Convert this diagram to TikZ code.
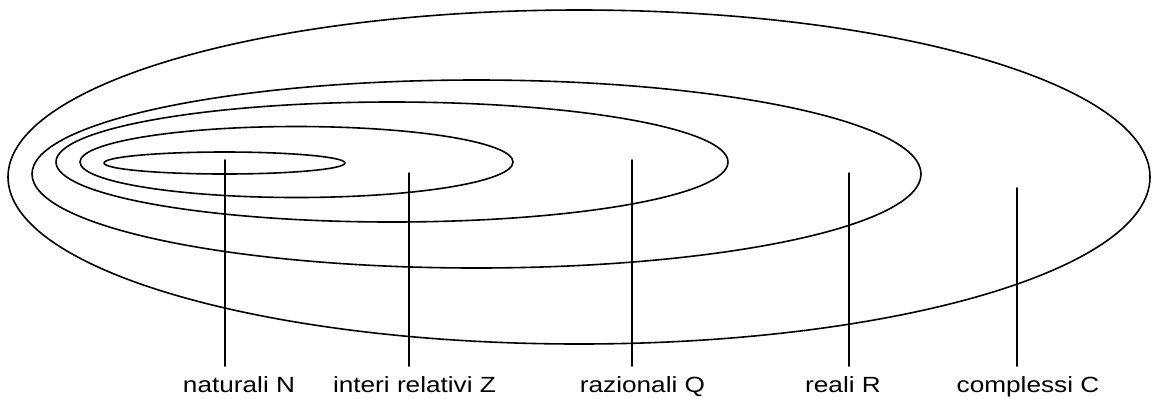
\documentclass[tikz,border=0pt]{standalone}
\usepackage{fontspec}
\setmainfont{Liberation Sans}[FakeStretch=1.19]
\begin{document}
\begin{tikzpicture}[x=0.5pt, y=-0.5pt, line join = round, line cap = round, font=\fontsize{11}{13}\selectfont]
				\tikzset{s/.style={line width=0.8pt},lab/.style={anchor=base,inner sep=0pt,outer ysep=5pt}}
				\useasboundingbox (0,0) rectangle (1153,398);
				
				\foreach \cx/\cy/\rx/\ry in {224.5/163/120.5/11, 296.5/162/216.5/35.5, 392/162/336/60, 476.5/174/444.5/94, 579/177/571/167}{
					\draw[s] (\cx,\cy) ellipse [x radius=\rx, y radius=\ry];	}
				\path(225,160)coordinate(tN) (409,173)coordinate(tZ) (632,160)coordinate(tQ) (849,173)coordinate(tR) (1017,188)coordinate(tC);
				\path(239,392)node[lab](N){naturali N} (414.5,392)node[lab](Z){interi relativi Z}
				(642.5,392)node[lab](Q){razionali Q} (843,392)node[lab](R){reali R} (1028,392)node[lab](C){complessi C};
				\foreach \x/\y in {N/tN,Z/tZ,Q/tQ,R/tR,C/tC}{
					\draw[s] (\y)--(\y |- \x.north);	}
			\end{tikzpicture}
\end{document}
